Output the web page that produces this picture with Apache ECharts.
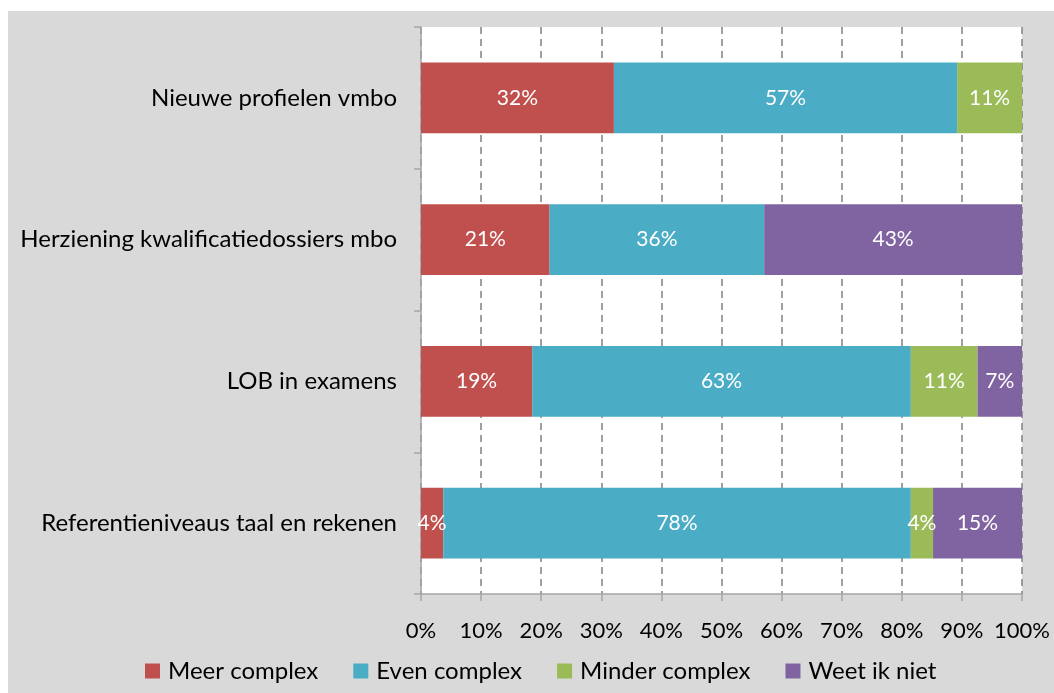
<!DOCTYPE html>
<html><head><meta charset="utf-8">
<script src="https://cdn.jsdelivr.net/npm/echarts@6/dist/echarts.min.js"></script>
<style>html,body{margin:0;padding:0;background:#fff}#c{width:1054px;height:693px}</style>
</head><body><div id="c"></div>
<script>
const categories = ['Nieuwe profielen vmbo','Herziening kwalificatiedossiers mbo','LOB in examens','Referentieniveaus taal en rekenen'];
const seriesNames = ['Meer complex','Even complex','Minder complex','Weet ik niet'];
const meerComplex = [32.1, 21.4, 18.5, 3.7];
const evenComplex = [57.1, 35.7, 63.0, 77.8];
const minderComplex = [10.8, 0, 11.1, 3.7];
const weetIkNiet = [0, 42.9, 7.4, 14.8];
const colors = ['#C0504D','#4BACC6','#9BBB59','#8064A2'];
const FONT = 'Lato';
const values = [meerComplex, evenComplex, minderComplex, weetIkNiet];
const chart = echarts.init(document.getElementById('c'));
chart.setOption({
  backgroundColor: '#ffffff',
  textStyle: {fontFamily: FONT},
  graphic: [{type:'rect', z:-10, shape:{x:8,y:11,width:1046,height:682}, style:{fill:'#d9d9d9'}}],
  grid: {left:421, top:27, right:32, bottom:99, show:true, backgroundColor:'#ffffff', borderWidth:0},
  legend: {
    top: 654, left: 140, itemWidth: 15, itemHeight: 15, itemGap: 35,
    icon: 'rect',
    textStyle: {fontFamily: FONT, fontSize: 24, color:'#000', padding:[0,0,0,3]},
    data: seriesNames
  },
  xAxis: {
    type:'value', min:0, max:100, interval:10,
    axisLine:{show:true, lineStyle:{color:'#a6a6a6', width:1.5}},
    axisTick:{show:true, length:7, lineStyle:{color:'#a6a6a6', width:1.5}},
    axisLabel:{formatter:'{value}%', fontFamily:FONT, fontSize:22, color:'#000', margin:26},
    splitLine:{show:true, lineStyle:{color:'#808080', type:[7,5], width:1.5}}
  },
  yAxis: {
    type:'category', data:categories, inverse:true,
    axisLine:{show:true, lineStyle:{color:'#a6a6a6', width:1.5}},
    axisTick:{show:true, length:7, lineStyle:{color:'#a6a6a6', width:1.5}},
    axisLabel:{fontFamily:FONT, fontSize:24, color:'#000', margin:24}
  },
  series: seriesNames.map((n,i)=>({
    name:n, type:'bar', stack:'total', barWidth:'50%',
    itemStyle:{color:colors[i]},
    label:{show:true, position:'inside', color:'#fff', fontFamily:FONT, fontSize:21,
      formatter:p=> p.value>0 ? Math.round(p.value)+'%' : ''},
    data: values[i]
  }))
});
</script></body></html>
